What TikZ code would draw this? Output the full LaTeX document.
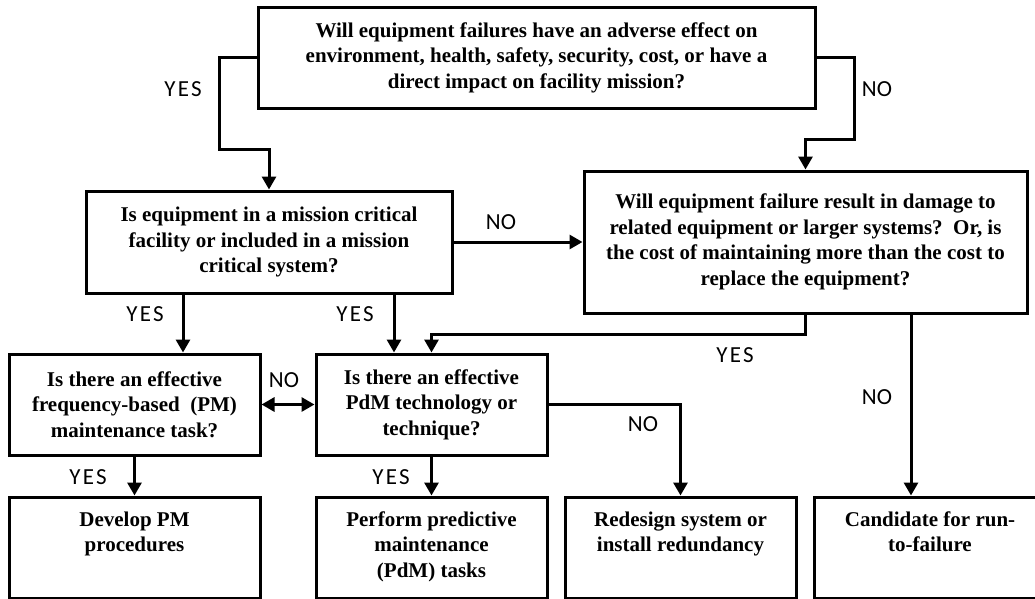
\documentclass[tikz,border=0pt]{standalone}
\usepackage{fontspec}
\setmainfont{Liberation Serif}
\newfontfamily\lblfont{Carlito}
\newfontfamily\yeslblfont[LetterSpace=10]{Carlito}
\usetikzlibrary{arrows.meta,positioning}
\tikzset{>={Triangle[length=13pt,width=14pt]}}
\tikzset{
  qbox/.style={draw, line width=3pt, align=center, inner sep=2pt,
    font=\fontsize{21}{25.5}\selectfont\bfseries},
  endbox/.style={draw, line width=3pt, minimum height=101pt},
  endtext/.style={anchor=north, align=center, inner sep=0pt, yshift=-16pt,
    font=\fontsize{21}{25.5}\selectfont\bfseries},
  lbl/.style={font=\lblfont\fontsize{23}{23}\selectfont, inner sep=0pt},
  yeslbl/.style={font=\yeslblfont\fontsize{23}{23}\selectfont, inner sep=0pt},
  link/.style={line width=3pt, ->}
}

\begin{document}
\begin{tikzpicture}[x=1pt, y=-1pt]
\clip (0,0) rectangle (1035,598);
% questions
\node[qbox, minimum width=557pt, minimum height=101pt] (top) at (536.5,57.5)
  {Will equipment failures have an adverse effect on\\
   environment, health, safety, security, cost, or have a\\
   direct impact on facility mission?};
\node[qbox, minimum width=366pt, minimum height=102pt] (crit) at (269,242)
  {Is equipment in a mission critical\\
   facility or included in a mission\\
   critical system?};
\node[qbox, minimum width=443pt, minimum height=142pt] (dmg) at (805.5,242)
  {Will equipment failure result in damage to\\
   related equipment or larger systems?\ \ Or, is\\
   the cost of maintaining more than the cost to\\
   replace the equipment?};
\node[qbox, minimum width=251pt, minimum height=101pt] (pm) at (134.5,404.5)
  {Is there an effective\\
   frequency-based\ \ (PM)\\
   maintenance task?};
\node[qbox, minimum width=231pt, minimum height=101pt] (pdm) at (431.5,404.5)
  {Is there an effective\\
   PdM technology or\\
   technique?};
% outcomes
\node[endbox, minimum width=251pt,
  label={[endtext, name=devtxt]north:{Develop PM\\procedures}}] (dev) at (134.5,547.5) {};
\node[endbox, minimum width=231pt,
  label={[endtext, name=perftxt]north:{Perform predictive\\maintenance\\(PdM) tasks}}] (perf) at (431.5,547.5) {};
\node[endbox, minimum width=231pt,
  label={[endtext, name=redestxt]north:{Redesign system or\\install redundancy}}] (redes) at (680.5,547.5) {};
\node[endbox, minimum width=232pt,
  label={[endtext, name=candtxt]north:{Candidate for run-\\to-failure}}] (cand) at (930,547.5) {};

% connectors
\draw[link] (top.west) -- ++(-37,0) -- ++(0,92) -| (crit.north);
\draw[link] (top.east) -- ++(38,0) -- ++(0,82) -| (dmg.north);
\draw[link] (crit.east) -- (dmg.west);
\draw[link] ([xshift=-86pt]crit.south) -- ([xshift=-86pt]crit.south |- pm.north);
\draw[link] ([xshift=125pt]crit.south) -- ([xshift=125pt]crit.south |- pdm.north);
\draw[link] (dmg.south) -- ++(0,20) -| (pdm.north);
\draw[link] ([xshift=105.5pt]dmg.south) -- ([xshift=105.5pt]dmg.south |- cand.north);
\draw[link, <->] (pm.east) -- (pdm.west);
\draw[link] (pdm.east) -| (redes.north);
\draw[link] (pm.south) -- (dev.north);
\draw[link] (pdm.south) -- (perf.north);

% answers
\node[yeslbl] (yestop) at (183,89) {YES};
\node[lbl] (notop) at (877,89) {NO};
\node[lbl] (nocrit) at (501,222) {NO};
\node[yeslbl] (yescritpm) at (145,314) {YES};
\node[yeslbl] (yescritpdm) at (355,314) {YES};
\node[lbl] (nopm) at (284,380) {NO};
\node[yeslbl] (yesdmg) at (735,355) {YES};
\node[lbl] (nodmg) at (877,397) {NO};
\node[lbl] (nopdm) at (643,424) {NO};
\node[yeslbl] (yespm) at (88,477) {YES};
\node[yeslbl] (yespdm) at (391,477) {YES};
\end{tikzpicture}
\end{document}
